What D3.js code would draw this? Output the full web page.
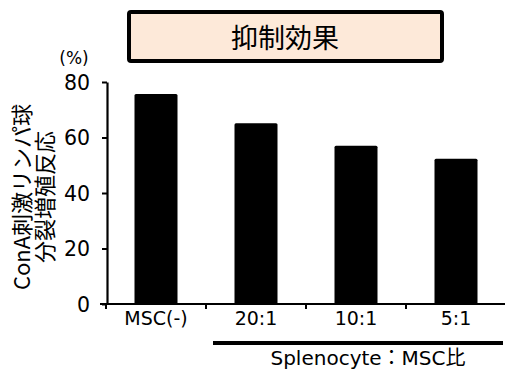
<!DOCTYPE html>
<html>
<head>
<meta charset="utf-8">
<script src="https://cdn.jsdelivr.net/npm/d3@7"></script>
<style>
  body { margin: 0; background: #fff; }
  text { font-family: "DejaVu Sans", "Noto Sans CJK JP", sans-serif; fill: #000; }
  .jp { font-family: "Noto Sans CJK JP", sans-serif; }
</style>
</head>
<body>
<svg id="svg"></svg>
<script>
// Chart data
const categories = ["MSC(-)", "20:1", "10:1", "5:1"];
const values = [75.7, 65.1, 57.0, 52.3];
const yTicks = [0, 20, 40, 60, 80];
const titleText = "抑制効果";
const yLabelLines = ["ConA刺激リンパ球", "分裂増殖反応"];
const groupLabel = "Splenocyte：MSC比";

const width = 505;
const height = 371;

let svg = d3.select("#svg")
    .attr("width", width)
    .attr("height", height);

// scales
let x = d3.scaleBand()
    .domain(categories)
    .range([106, 506])
    .paddingInner(0.57)
    .paddingOuter(0.285);

let y = d3.scaleLinear()
    .domain([0, 80])
    .range([304, 82]);

// bars
svg.selectAll("rect.bar")
    .data(values)
    .enter()
    .append("rect")
    .attr("class", "bar")
    .attr("x", (d, i) => x(categories[i]))
    .attr("y", d => y(d))
    .attr("width", x.bandwidth())
    .attr("height", d => y(0) - y(d))
    .attr("rx", 1.5)
    .style("fill", "#000");

// y axis
let yAxis = svg.append("g")
    .attr("transform", "translate(107,0)")
    .call(d3.axisLeft(y).tickValues(yTicks).tickSize(5).tickSizeOuter(0).tickPadding(12));
yAxis.select(".domain").attr("stroke-width", 2.2);
yAxis.selectAll(".tick line").attr("stroke-width", 2);
yAxis.selectAll(".tick text")
    .style("font-family", "DejaVu Sans")
    .style("font-size", "20.5px")
    .attr("dy", "0.36em");

// x axis
let xTickScale = d3.scaleLinear().domain([0, 4]).range([106, 506]);
let xAxis = svg.append("g")
    .attr("transform", "translate(0," + y(0) + ")");
xAxis.append("line")
    .attr("x1", 100).attr("x2", width)
    .attr("stroke", "#000").attr("stroke-width", 2.2);
xAxis.selectAll("line.tk")
    .data(d3.range(5))
    .enter()
    .append("line")
    .attr("class", "tk")
    .attr("x1", d => xTickScale(d)).attr("x2", d => xTickScale(d))
    .attr("y1", 0).attr("y2", 5)
    .attr("stroke", "#000").attr("stroke-width", 2);

svg.selectAll("text.cat")
    .data(categories)
    .enter()
    .append("text")
    .attr("class", "cat")
    .attr("x", d => x(d) + x.bandwidth() / 2)
    .attr("y", 325)
    .attr("text-anchor", "middle")
    .style("font-size", "19px")
    .text(d => d);

// group bracket under ratio categories
svg.append("line")
    .attr("x1", 213).attr("x2", 503)
    .attr("y1", 343).attr("y2", 343)
    .attr("stroke", "#000").attr("stroke-width", 4);

svg.append("text")
    .attr("x", 368)
    .attr("y", 365)
    .attr("text-anchor", "middle")
    .style("font-size", "20px")
    .text(groupLabel);

// unit label
svg.append("text")
    .attr("x", 74)
    .attr("y", 64)
    .attr("text-anchor", "middle")
    .style("font-size", "17px")
    .text("(%)");

// rotated y label
yLabelLines.forEach((line, i) => {
    svg.append("text")
        .attr("class", "jp")
        .attr("transform", "translate(" + (22 + i * 23) + ",197) rotate(-90)")
        .attr("text-anchor", "middle")
        .attr("dy", "0.36em")
        .style("font-size", "22px")
        .text(line);
});

// title box
svg.append("rect")
    .attr("x", 129).attr("y", 12)
    .attr("width", 313).attr("height", 49)
    .attr("rx", 2)
    .style("fill", "#fde9d9")
    .style("stroke", "#000")
    .style("stroke-width", 4);

svg.append("text")
    .attr("class", "jp")
    .attr("x", 285)
    .attr("y", 38)
    .attr("text-anchor", "middle")
    .attr("dy", "0.36em")
    .style("font-size", "27px")
    .text(titleText);
</script>
</body>
</html>
